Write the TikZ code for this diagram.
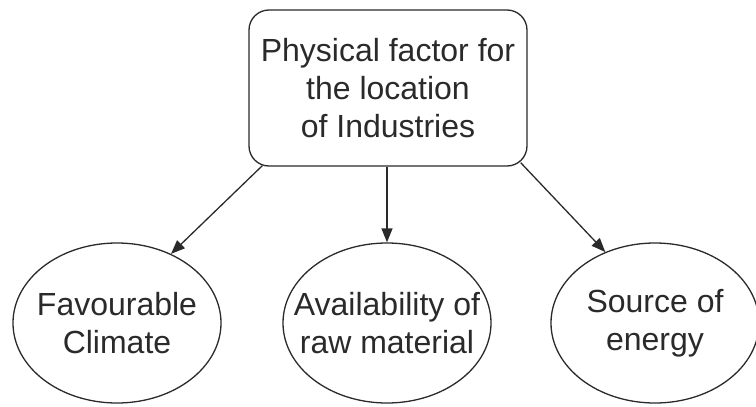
\documentclass[tikz,border=0pt]{standalone}
\usepackage{fontspec}
\setmainfont{Liberation Sans}
\usetikzlibrary{shapes.geometric,arrows.meta}
\definecolor{ink}{HTML}{2A2A2A}
\begin{document}
\begin{tikzpicture}[x=1pt,y=-1pt,
  every node/.style={text=ink,font=\fontsize{32}{38}\selectfont,align=center,inner sep=0pt},
  topbox/.style={draw=ink,line width=1.3pt,rounded corners=20pt,minimum width=278pt,minimum height=156pt},
  oval/.style={draw=ink,line width=1.3pt,ellipse,inner xsep=-24pt,inner ysep=-12pt,minimum width=208pt,minimum height=160pt},
  conn/.style={draw=ink,line width=1.3pt,-{Triangle[length=14pt,width=11pt]}}]
\useasboundingbox (0,0) rectangle (756,407);
\node[topbox] (box) at (388,88) {Physical factor for\\the location\\of Industries};
\node[oval] (left) at (117,323) {Favourable\\Climate};
\node[oval] (mid) at (387,323) {Availability of\\raw material};
\node[oval] (right) at (655,323) {Source of\\energy};
\draw[conn] ([xshift=14pt,yshift=1pt]box.south west) -- (left.52);
\draw[conn] (box.south -| mid.north) -- (mid.north);
\draw[conn] ([xshift=-7pt,yshift=4pt]box.south east) -- (right.125);
\end{tikzpicture}
\end{document}
